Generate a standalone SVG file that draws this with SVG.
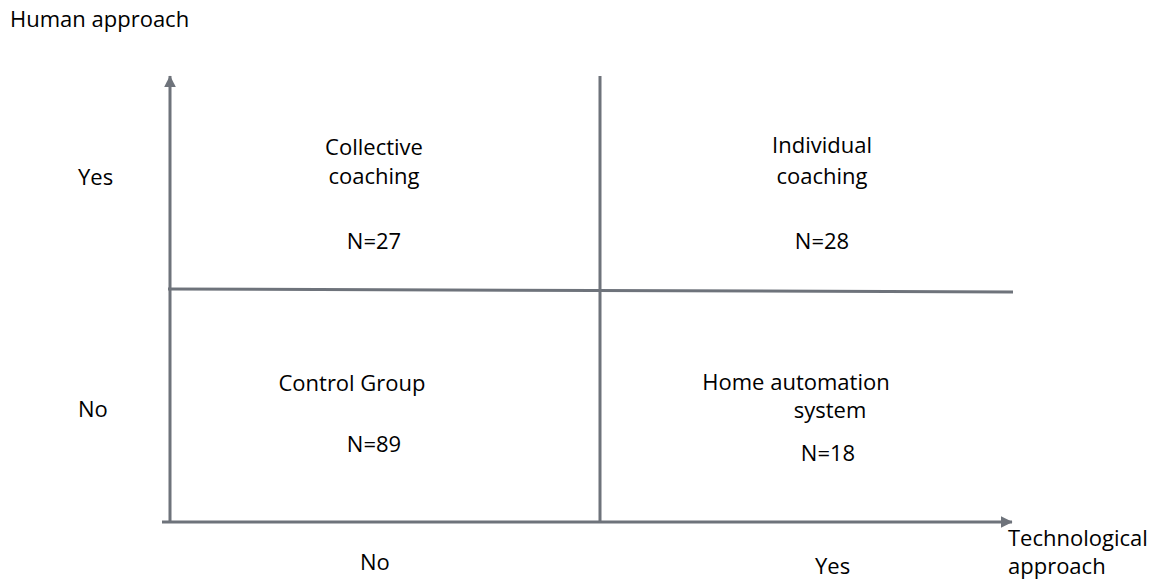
<svg xmlns="http://www.w3.org/2000/svg" width="1154" height="581" viewBox="0 0 1154 581">
<style>
text{font-family:"Open Sans","Liberation Sans",sans-serif;font-size:22px;fill:#000}
.c{text-anchor:middle}
.ln{stroke:#6e737b;stroke-width:3;fill:none}
</style>
<defs>
<marker id="ah" markerWidth="4" markerHeight="4" refX="3.8" refY="2" orient="auto" markerUnits="strokeWidth">
<path d="M0,0 L4,2 L0,4 Z" fill="#6e737b"/>
</marker>
</defs>
<rect width="1154" height="581" fill="#fff"/>
<g id="connectors">
<line class="ln" x1="170" y1="523" x2="170" y2="76" marker-end="url(#ah)"/>
<line class="ln" x1="162" y1="522" x2="1012" y2="522" marker-end="url(#ah)"/>
<line class="ln" x1="600" y1="76" x2="600" y2="523"/>
<line class="ln" x1="168" y1="289" x2="1013" y2="292"/>
</g>
<g id="axis-labels">
<text x="10" y="27">Human approach</text>
<text x="78" y="185">Yes</text>
<text x="78" y="417">No</text>
<text x="360" y="570">No</text>
<text x="815" y="574">Yes</text>
<text x="1008" y="546">Technological</text>
<text x="1008" y="574">approach</text>
</g>
<g id="collective">
<text class="c" x="374" y="155">Collective</text>
<text class="c" x="374" y="184">coaching</text>
<text class="c" x="374" y="249">N=27</text>
</g>
<g id="individual">
<text class="c" x="822" y="153">Individual</text>
<text class="c" x="822" y="184">coaching</text>
<text class="c" x="822" y="249">N=28</text>
</g>
<g id="control">
<text class="c" x="352" y="391">Control Group</text>
<text class="c" x="374" y="452">N=89</text>
</g>
<g id="home">
<text class="c" x="796" y="390">Home automation</text>
<text class="c" x="830" y="418">system</text>
<text class="c" x="828" y="461">N=18</text>
</g>
</svg>
